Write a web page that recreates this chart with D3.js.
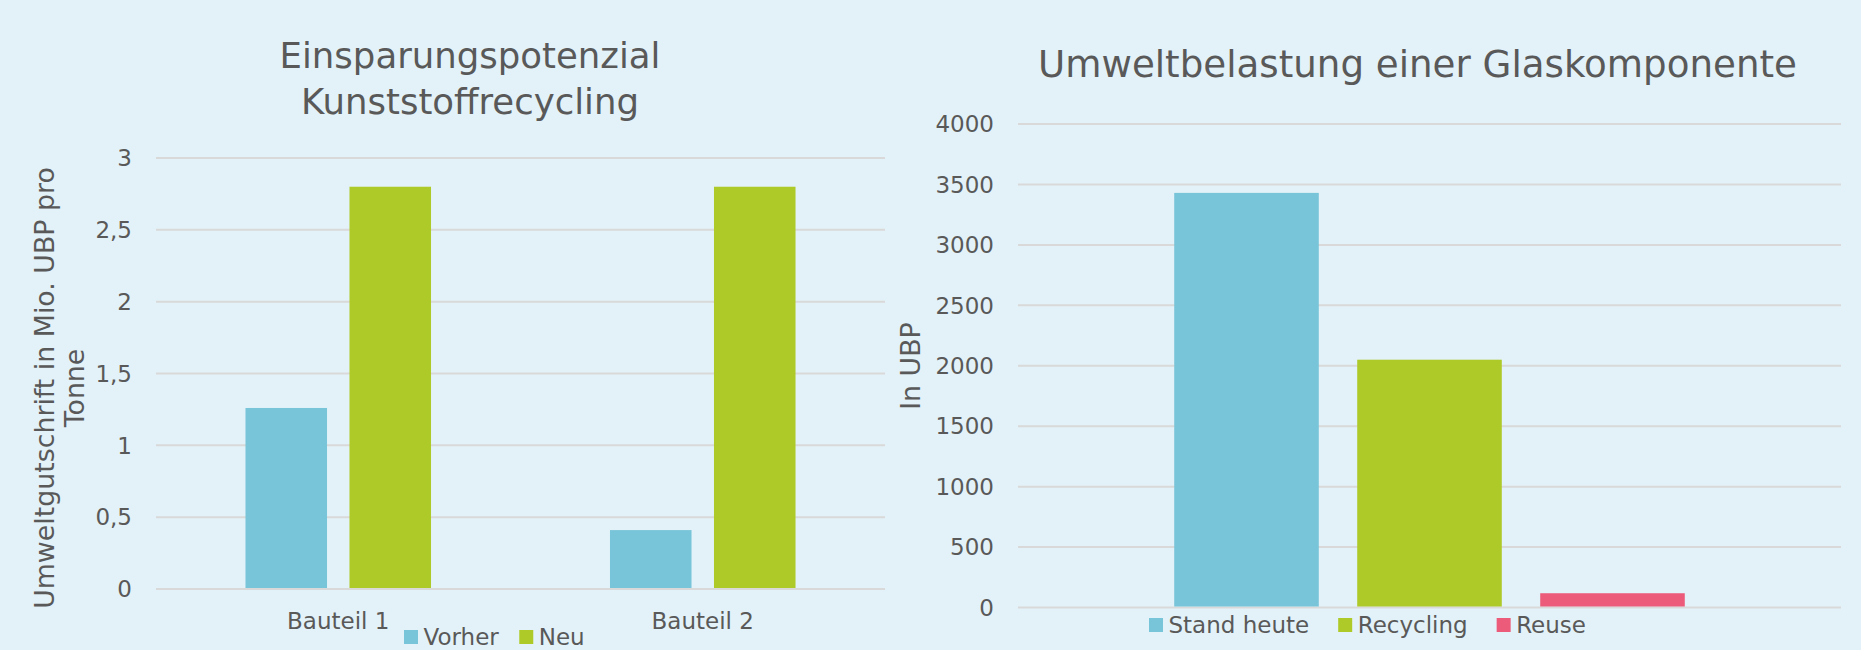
<!DOCTYPE html>
<html>
<head>
<meta charset="utf-8">
<script src="https://cdn.jsdelivr.net/npm/d3@7"></script>
<style>
  html, body { margin: 0; padding: 0; background: #e3f2f8; }
  svg { display: block; }
  text { font-family: "DejaVu Sans", Verdana, sans-serif; fill: #595959; }
</style>
</head>
<body>
<svg id="chart" width="1861" height="650"></svg>
<script>
// Left chart data
const leftCategories = ['Bauteil 1', 'Bauteil 2'];
const leftSeries = ['Vorher', 'Neu'];
const leftVorher = [1.26, 0.41];
const leftNeu = [2.8, 2.8];
const leftTicks = [0, 0.5, 1, 1.5, 2, 2.5, 3];

// Right chart data
const rightCategories = [''];
const rightSeries = ['Stand heute', 'Recycling', 'Reuse'];
const rightValues = [3430, 2050, 118];
const rightTicks = [0, 500, 1000, 1500, 2000, 2500, 3000, 3500, 4000];

const colors = { 'Vorher': '#78c4d8', 'Neu': '#aeca29', 'Stand heute': '#78c4d8', 'Recycling': '#aeca29', 'Reuse': '#ec5b7a' };

const svg = d3.select('#chart');
const deFormat = d3.formatLocale({ decimal: ',', thousands: '', grouping: [3], currency: ['', '€'] }).format('');

/**
 * Draw the gridlines and tick labels of one panel
 */
function drawGrid(g, y, ticks, x0, x1, labelRight, fmt) {
    g.selectAll('.grid')
        .data(ticks)
        .enter()
        .append('line')
        .attr('x1', x0)
        .attr('x2', x1)
        .attr('y1', d => y(d))
        .attr('y2', d => y(d))
        .attr('stroke', '#d9d9d9')
        .attr('stroke-width', 2);

    g.selectAll('.tick-label')
        .data(ticks)
        .enter()
        .append('text')
        .attr('x', labelRight)
        .attr('y', d => y(d))
        .attr('dy', '0.36em')
        .attr('text-anchor', 'end')
        .style('font-size', '23px')
        .text(d => fmt(d));
}

// legend: swatch, text, then a gap before the next item
function drawLegend(g, items, startX, swatchY, baseY, gap) {
    let x = startX;
    items.forEach(name => {
        g.append('rect')
            .attr('x', x)
            .attr('y', swatchY)
            .attr('width', 14)
            .attr('height', 14)
            .attr('fill', colors[name]);
        const t = g.append('text')
            .attr('x', x + 19.5)
            .attr('y', baseY)
            .style('font-size', '23px')
            .text(name);
        x += 19.5 + t.node().getComputedTextLength() + gap;
    });
}

// ---------- Left chart ----------
function createLeftChart() {
    const g = svg.append('g');

    const x0 = d3.scaleBand()
        .domain(leftCategories)
        .range([156, 885])
        .paddingInner(0.491)
        .paddingOuter(0.2455);

    const x1 = d3.scaleBand()
        .domain(leftSeries)
        .range([0, x0.bandwidth()])
        .paddingInner(0.216);

    const y = d3.scaleLinear()
        .domain([0, 3])
        .range([589, 158]);

    drawGrid(g, y, leftTicks, 156, 885, 132, d => deFormat(d));

    const rows = leftCategories.map((c, i) => ({ cat: c, values: [
        { key: 'Vorher', value: leftVorher[i] },
        { key: 'Neu', value: leftNeu[i] }
    ] }));

    g.selectAll('.group')
        .data(rows)
        .enter()
        .append('g')
        .attr('transform', d => `translate(${x0(d.cat)},0)`)
        .selectAll('rect')
        .data(d => d.values)
        .enter()
        .append('rect')
        .attr('x', d => x1(d.key))
        .attr('y', d => y(d.value))
        .attr('width', x1.bandwidth())
        .attr('height', d => y(0) - y(d.value) - 1)
        .attr('fill', d => colors[d.key]);

    g.selectAll('.cat-label')
        .data(leftCategories)
        .enter()
        .append('text')
        .attr('x', d => x0(d) + x0.bandwidth() / 2)
        .attr('y', 629)
        .attr('text-anchor', 'middle')
        .style('font-size', '23px')
        .text(d => d);

    // Title
    g.append('text')
        .attr('x', 470).attr('y', 68)
        .attr('text-anchor', 'middle')
        .style('font-size', '35.5px')
        .text('Einsparungspotenzial');
    g.append('text')
        .attr('x', 470).attr('y', 114)
        .attr('text-anchor', 'middle')
        .style('font-size', '35.5px')
        .text('Kunststoffrecycling');

    // Y axis title (two lines)
    const yt = g.append('text')
        .attr('transform', 'translate(44,388) rotate(-90)')
        .attr('text-anchor', 'middle')
        .style('font-size', '26.8px');
    yt.append('tspan').attr('x', 0).attr('dy', '0.36em').text('Umweltgutschrift in Mio. UBP pro');
    yt.append('tspan').attr('x', 0).attr('dy', 30).text('Tonne');

    drawLegend(g, leftSeries, 404, 630, 645, 20.5);
}

// ---------- Right chart ----------
function createRightChart() {
    const g = svg.append('g');

    const x0 = d3.scaleBand()
        .domain(rightCategories)
        .range([1018, 1841])
        .paddingInner(0)
        .paddingOuter(0.306);

    const x1 = d3.scaleBand()
        .domain(rightSeries)
        .range([0, x0.bandwidth()])
        .paddingInner(0.21);

    const y = d3.scaleLinear()
        .domain([0, 4000])
        .range([607.5, 124]);

    drawGrid(g, y, rightTicks, 1018, 1841, 994, d => String(d));

    g.selectAll('.bar')
        .data(rightSeries.map((s, i) => ({ key: s, value: rightValues[i] })))
        .enter()
        .append('rect')
        .attr('x', d => x0('') + x1(d.key))
        .attr('y', d => y(d.value))
        .attr('width', x1.bandwidth())
        .attr('height', d => y(0) - y(d.value) - 1)
        .attr('fill', d => colors[d.key]);

    g.append('text')
        .attr('x', 1417.5).attr('y', 77)
        .attr('text-anchor', 'middle')
        .style('font-size', '37.2px')
        .text('Umweltbelastung einer Glaskomponente');

    g.append('text')
        .attr('transform', 'translate(910,366) rotate(-90)')
        .attr('text-anchor', 'middle')
        .attr('dy', '0.36em')
        .style('font-size', '26.8px')
        .text('In UBP');

    drawLegend(g, rightSeries, 1149, 618, 633, 29);
}

createLeftChart();
createRightChart();
</script>
</body>
</html>
